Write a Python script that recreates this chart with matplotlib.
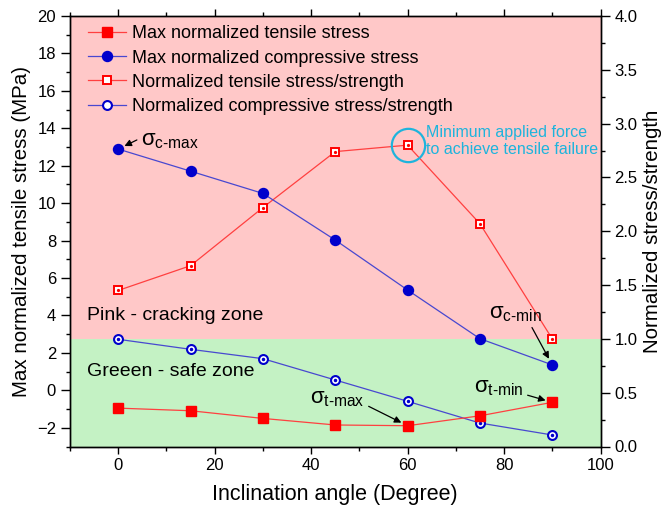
import numpy as np
import matplotlib
matplotlib.use("Agg")
import matplotlib.pyplot as plt
from matplotlib.ticker import MultipleLocator
from matplotlib.lines import Line2D

plt.rcParams['font.family'] = ['Liberation Sans', 'DejaVu Sans']
plt.rcParams['mathtext.fontset'] = 'custom'
plt.rcParams['mathtext.rm'] = 'Liberation Sans'
plt.rcParams['mathtext.it'] = 'Liberation Sans'

# data
angle = [0, 15, 30, 45, 60, 75, 90]
max_tensile = [-0.95, -1.09, -1.50, -1.85, -1.89, -1.36, -0.64]      # MPa
max_compressive = [12.89, 11.71, 10.52, 8.03, 5.36, 2.76, 1.36]      # MPa
tensile_ratio = [1.45, 1.68, 2.22, 2.74, 2.80, 2.07, 1.00]
compressive_ratio = [0.996, 0.903, 0.816, 0.618, 0.42, 0.218, 0.107]

pink = '#FFC8C8'
green = '#C4F2C4'
red = '#FF0000'
red_line = '#FF4040'
blue = '#0000CC'
blue_line = '#4848D0'
cyan = '#1EB4DC'

fig = plt.figure(figsize=(6.68, 5.17), dpi=100)
ax = fig.add_axes([70/668, 1-446.5/517, 530.5/668, 430.5/517])
ax2 = ax.twinx()
ax.set_zorder(2)
ax2.set_zorder(1)
ax.patch.set_visible(False)

# zones (right axis: ratio < 1 is safe)
ax2.axhspan(0, 1.0, color=green, zorder=0, lw=0)
ax2.axhspan(1.0, 4.0, color=pink, zorder=0, lw=0)

ax.plot(angle, max_tensile, color=red_line, lw=0.9, marker='s', ms=6.7,
        mfc=red, mec=red)
ax.plot(angle, max_compressive, color=blue_line, lw=0.9, marker='o', ms=7.2,
        mfc=blue, mec=blue)

ax2.plot(angle, tensile_ratio, color=red_line, lw=0.9, marker='s', ms=6,
         mfc='white', mec=red, mew=1.4)
ax2.plot(angle, tensile_ratio, ls='none', marker='o', ms=1.3, mfc=red, mec=red)
ax2.plot(angle, compressive_ratio, color=blue_line, lw=0.9, marker='o', ms=6.4,
         mfc='white', mec=blue, mew=1.5)
ax2.plot(angle, compressive_ratio, ls='none', marker='o', ms=1.5, mfc=blue, mec=blue)

# highlight minimum force point
ax2.plot(angle[4], tensile_ratio[4], marker='o', ms=24, mfc='none', mec=cyan, mew=1.6)
ax.text(63.9, 13.33, 'Minimum applied force\nto achieve tensile failure',
        color=cyan, fontsize=11.5, ha='left', va='center', linespacing=1.2)

ax.set_xlim(-10, 100)
ax.set_ylim(-3, 20)
ax2.set_ylim(0, 4)

ax.xaxis.set_major_locator(MultipleLocator(20))
ax.xaxis.set_minor_locator(MultipleLocator(10))
ax.yaxis.set_major_locator(MultipleLocator(2))
ax.yaxis.set_minor_locator(MultipleLocator(1))
ax2.yaxis.set_major_locator(MultipleLocator(0.5))
ax2.yaxis.set_minor_locator(MultipleLocator(0.25))
ax2.yaxis.set_major_formatter(matplotlib.ticker.FormatStrFormatter('%.1f'))

ax.tick_params(axis='both', which='major', direction='out', length=6.5, width=1,
               labelsize=12, top=True)
ax.tick_params(axis='both', which='minor', direction='out', length=3.2, width=1,
               top=True)
ax.tick_params(axis='x', which='major', length=5)
ax2.tick_params(axis='y', which='major', direction='out', length=6.5, width=1,
                labelsize=12)
ax2.tick_params(axis='y', which='minor', direction='out', length=3.2, width=1)
for a in (ax, ax2):
    for s in a.spines.values():
        s.set_linewidth(1.0)

ax.set_xlabel('Inclination angle (Degree)', fontsize=15.5, labelpad=8)
ax.set_ylabel('Max normalized tensile stress (MPa)', fontsize=14.8, labelpad=4)
ax2.set_ylabel('Normalized stress/strength', fontsize=14.8, labelpad=4)

ax.text(-6.5, 4.02, 'Pink - cracking zone', fontsize=14, ha='left', va='center')
ax.text(-6.5, 0.99, 'Greeen - safe zone', fontsize=14, ha='left', va='center')

arrow = dict(arrowstyle='-|>', color='black', lw=0.9, mutation_scale=10,
             shrinkA=1, shrinkB=5)
ax.annotate(r'$\sigma_{\mathrm{c\text{-}max}}$', xy=(angle[0], max_compressive[0]),
            xytext=(4.7, 13.37), fontsize=16, ha='left', va='center',
            arrowprops=dict(arrow, relpos=(0, 0.6)))
ax.annotate(r'$\sigma_{\mathrm{c\text{-}min}}$', xy=(angle[6], max_compressive[6]),
            xytext=(76.8, 4.13), fontsize=16, ha='left', va='center',
            arrowprops=dict(arrow, relpos=(0.78, 0.0)))
ax.annotate(r'$\sigma_{\mathrm{t\text{-}max}}$', xy=(angle[4], max_tensile[4]),
            xytext=(39.8, -0.41), fontsize=16, ha='left', va='center',
            arrowprops=dict(arrow, relpos=(1.0, 0.2)))
ax.annotate(r'$\sigma_{\mathrm{t\text{-}min}}$', xy=(angle[6], max_tensile[6]),
            xytext=(73.8, 0.14), fontsize=16, ha='left', va='center',
            arrowprops=dict(arrow, relpos=(1.0, 0.2)))

handles = [
    Line2D([], [], color=red_line, lw=0.9, marker='s', ms=6.7, mfc=red, mec=red),
    Line2D([], [], color=blue_line, lw=0.9, marker='o', ms=7.2, mfc=blue, mec=blue),
    Line2D([], [], color=red_line, lw=0.9, marker='s', ms=6, mfc='white', mec=red, mew=1.4),
    Line2D([], [], color=blue_line, lw=0.9, marker='o', ms=6.4, mfc='white', mec=blue, mew=1.5),
]
labels = ['Max normalized tensile stress', 'Max normalized compressive stress',
          'Normalized tensile stress/strength', 'Normalized compressive stress/strength']
ax.legend(handles, labels, loc='upper left', bbox_to_anchor=(0.02, 0.995),
          frameon=False, fontsize=13, handlelength=2.1, handletextpad=0.37,
          labelspacing=0.4, borderaxespad=0.2, borderpad=0.2)

fig.savefig('out.png', dpi=100)
